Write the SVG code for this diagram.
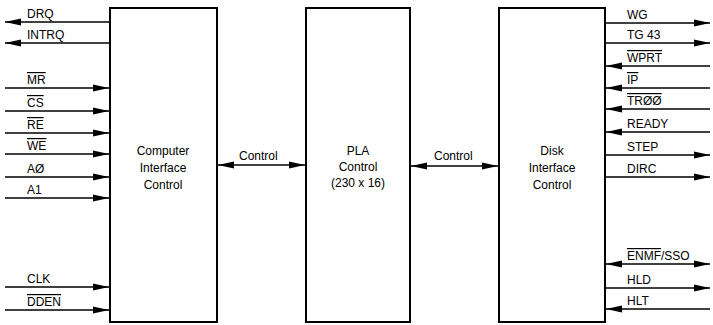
<svg xmlns="http://www.w3.org/2000/svg" width="713" height="325" viewBox="0 0 713 325">
  <style>
    .box { fill: #fff; stroke: #000; stroke-width: 2; }
    .sig { stroke: #000; stroke-width: 1.6; fill: none; }
    text { font-family: "Liberation Sans", Arial, sans-serif; font-size: 12px; fill: #000; }
    .c { text-anchor: middle; }
    .ov { text-decoration: overline; }
  </style>
  <defs>
    <marker id="ah" markerUnits="userSpaceOnUse" markerWidth="16" markerHeight="8" viewBox="0 0 16 8" refX="16" refY="4" orient="auto-start-reverse">
      <path d="M0,0.6 L16,4 L0,7.4 Z" fill="#000"/>
    </marker>
  </defs>

  <g id="computer-interface">
    <rect class="box" x="110" y="8" width="107" height="314"/>
    <text class="c" x="163" y="155">Computer</text>
    <text class="c" x="163" y="172">Interface</text>
    <text class="c" x="163" y="189">Control</text>
  </g>

  <g id="pla-control">
    <rect class="box" x="306" y="8" width="104" height="314"/>
    <text class="c" x="358" y="155">PLA</text>
    <text class="c" x="358" y="171">Control</text>
    <text class="c" x="358" y="187">(230 x 16)</text>
  </g>

  <g id="disk-interface">
    <rect class="box" x="499" y="8" width="106" height="314"/>
    <text class="c" x="552" y="155">Disk</text>
    <text class="c" x="552" y="172">Interface</text>
    <text class="c" x="552" y="189">Control</text>
  </g>

  <g id="connectors">
    <!-- internal buses -->
    <line class="sig" x1="218" y1="165" x2="305" y2="165" marker-start="url(#ah)" marker-end="url(#ah)"/>
    <line class="sig" x1="411" y1="166" x2="498" y2="166" marker-start="url(#ah)" marker-end="url(#ah)"/>

    <!-- computer side -->
    <line class="sig" x1="109" y1="22" x2="5" y2="22" marker-end="url(#ah)"/>
    <line class="sig" x1="109" y1="43" x2="5" y2="43" marker-end="url(#ah)"/>
    <line class="sig" x1="5" y1="88" x2="109" y2="88" marker-end="url(#ah)"/>
    <line class="sig" x1="5" y1="111" x2="109" y2="111" marker-end="url(#ah)"/>
    <line class="sig" x1="5" y1="133" x2="109" y2="133" marker-end="url(#ah)"/>
    <line class="sig" x1="5" y1="154" x2="109" y2="154" marker-end="url(#ah)"/>
    <line class="sig" x1="5" y1="177" x2="109" y2="177" marker-end="url(#ah)"/>
    <line class="sig" x1="5" y1="198" x2="109" y2="198" marker-end="url(#ah)"/>
    <line class="sig" x1="5" y1="287" x2="109" y2="287" marker-end="url(#ah)"/>
    <line class="sig" x1="5" y1="310" x2="109" y2="310" marker-end="url(#ah)"/>

    <!-- disk side -->
    <line class="sig" x1="606" y1="23" x2="710" y2="23" marker-end="url(#ah)"/>
    <line class="sig" x1="606" y1="43" x2="710" y2="43" marker-end="url(#ah)"/>
    <line class="sig" x1="710" y1="66" x2="606" y2="66" marker-end="url(#ah)"/>
    <line class="sig" x1="710" y1="88" x2="606" y2="88" marker-end="url(#ah)"/>
    <line class="sig" x1="710" y1="109" x2="606" y2="109" marker-end="url(#ah)"/>
    <line class="sig" x1="710" y1="132" x2="606" y2="132" marker-end="url(#ah)"/>
    <line class="sig" x1="606" y1="155" x2="710" y2="155" marker-end="url(#ah)"/>
    <line class="sig" x1="606" y1="177" x2="710" y2="177" marker-end="url(#ah)"/>
    <line class="sig" x1="606" y1="264" x2="710" y2="264" marker-start="url(#ah)" marker-end="url(#ah)"/>
    <line class="sig" x1="606" y1="288" x2="710" y2="288" marker-end="url(#ah)"/>
    <line class="sig" x1="710" y1="309" x2="606" y2="309" marker-end="url(#ah)"/>
  </g>

  <g id="labels">
    <text x="239" y="160">Control</text>
    <text x="434" y="160">Control</text>

    <text x="27" y="18">DRQ</text>
    <text x="27" y="39">INTRQ</text>
    <text x="27" y="84" class="ov">MR</text>
    <text x="27" y="107" class="ov">CS</text>
    <text x="27" y="129" class="ov">RE</text>
    <text x="27" y="150" class="ov">WE</text>
    <text x="27" y="173">AØ</text>
    <text x="27" y="194">A1</text>
    <text x="27" y="283">CLK</text>
    <text x="27" y="306" class="ov">DDEN</text>

    <text x="627" y="19">WG</text>
    <text x="627" y="39">TG 43</text>
    <text x="627" y="62" class="ov">WPRT</text>
    <text x="627" y="84" class="ov">IP</text>
    <text x="627" y="105" class="ov">TRØØ</text>
    <text x="627" y="128">READY</text>
    <text x="627" y="151">STEP</text>
    <text x="627" y="173">DIRC</text>
    <text x="627" y="260"><tspan class="ov">ENMF</tspan>/SSO</text>
    <text x="627" y="284">HLD</text>
    <text x="627" y="305">HLT</text>
  </g>
</svg>
